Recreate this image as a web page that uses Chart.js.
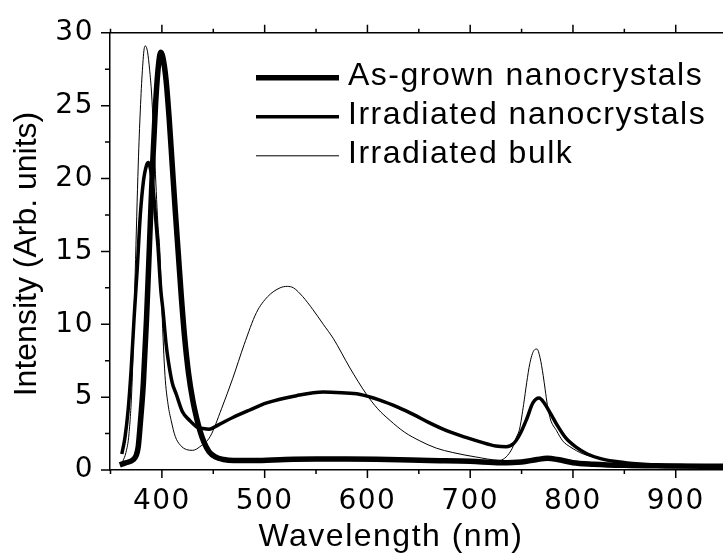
<!DOCTYPE html>
<html>
<head>
<meta charset="utf-8">
<script src="https://cdn.jsdelivr.net/npm/chart.js@4.4.0/dist/chart.umd.min.js"></script>
<style>
  body { margin: 0; background: #fff; }
  #wrap { width: 723px; height: 556px; position: relative; }
</style>
</head>
<body>
<div id="wrap"><canvas id="pl-chart"></canvas></div>
<script>
// photoluminescence spectra

const seriesLabels = ['As-grown nanocrystals', 'Irradiated nanocrystals', 'Irradiated bulk'];

const asGrownNm = [359, 365, 372, 375, 377, 379, 382, 385, 388, 391, 394, 397, 399, 401, 404, 407, 410, 413, 416, 419,
    422, 426, 430, 434, 437, 441, 446, 452, 460, 470, 490, 520, 550, 580, 620, 660, 700, 730, 750, 765,
    775, 785, 800, 820, 850, 890, 946];
const asGrownI = [0.35, 0.5, 0.7, 1.0, 1.6, 3.2, 6.0, 10.3, 15.6, 21.0, 25.3, 28.0, 28.66, 28.3, 26.8, 24.2, 21.0, 17.8, 14.8, 11.8,
    9.2, 6.6, 4.8, 3.5, 2.7, 1.9, 1.25, 0.9, 0.72, 0.65, 0.65, 0.72, 0.75, 0.75, 0.72, 0.65, 0.6, 0.5, 0.55, 0.72,
    0.8, 0.72, 0.5, 0.4, 0.32, 0.28, 0.25];

const irrNanoNm = [361, 364, 367, 370, 373, 376, 379, 382, 385, 387, 389, 391, 393, 396, 399, 401, 404, 406, 410, 414,
    420, 427, 434, 440, 446, 455, 469, 485, 502, 531, 557, 575, 592, 612, 630, 645, 660, 677, 695, 709,
    725, 735, 742, 748, 755, 761, 767, 772, 778, 784, 793, 803, 814, 826, 840, 858, 880, 910, 946];
const irrNanoI = [1.1, 2.2, 4.0, 6.8, 10.5, 13.8, 17.5, 19.8, 20.9, 21.1, 20.6, 19.6, 18.1, 15.5, 12.3, 11.0, 8.7, 7.6, 6.0, 5.2,
    4.0, 3.4, 2.95, 2.85, 2.8, 3.1, 3.6, 4.1, 4.6, 5.1, 5.35, 5.3, 5.2, 4.8, 4.3, 3.8, 3.25, 2.7, 2.25, 1.95,
    1.65, 1.6, 1.8, 2.4, 3.5, 4.6, 4.94, 4.6, 3.9, 3.15, 2.2, 1.57, 1.1, 0.8, 0.6, 0.45, 0.35, 0.3, 0.28];

const bulkNm = [362, 365, 368, 371, 374, 377, 379, 381, 383, 384, 386, 388, 390, 393, 396, 398, 400, 403, 406, 409,
    413, 418, 424, 430, 437, 447, 458, 469, 480, 492, 503, 515, 522, 528, 537, 547, 557, 567, 583, 599,
    610, 622, 636, 651, 667, 683, 705, 729, 735, 741, 745, 748, 752, 755, 758, 762, 765, 768, 771, 773,
    775, 778, 784, 790, 797, 810, 826, 850, 880, 946];
const bulkI = [0.6, 1.2, 2.5, 6.0, 13.5, 21.0, 24.7, 27.4, 29.0, 29.1, 28.7, 27.5, 25.8, 21.4, 17.0, 15.0, 11.0, 6.5, 4.5, 3.4,
    2.3, 1.7, 1.4, 1.35, 1.6, 2.3, 4.2, 6.3, 8.6, 10.8, 11.9, 12.5, 12.6, 12.5, 11.9, 11.0, 10.0, 9.0, 7.0, 5.2,
    4.2, 3.4, 2.6, 2.0, 1.5, 1.2, 0.9, 0.67, 0.9, 1.5, 2.25, 2.8, 4.5, 6.0, 7.3, 8.2, 8.3, 7.7, 6.5, 5.5,
    4.5, 3.5, 2.7, 2.0, 1.6, 1.1, 0.8, 0.5, 0.35, 0.3];

const xTicks = [400, 500, 600, 700, 800, 900];
const xMinorTicks = [350, 450, 550, 650, 750, 850];
const yTicks = [0, 5, 10, 15, 20, 25, 30];
const yMinorTicks = [2.5, 7.5, 12.5, 17.5, 22.5, 27.5];

const xTitle = 'Wavelength (nm)';
const yTitle = 'Intensity (Arb. units)';

const X_MIN = 349.5;
const X_MAX = 946;

function toPoints(xs, ys) {
    return xs.map((v, i) => ({ x: v, y: ys[i] }));
}

Chart.defaults.font.family = '"Liberation Sans", Arial, sans-serif';
Chart.defaults.color = '#000';

const tickFont = { family: '"DejaVu Sans", sans-serif', size: 28 };

// ticks, titles and legend drawn on top of the chart
const decorations = {
    id: 'decorations',
    beforeDraw(chart) {
        chart.ctx.letterSpacing = '1.5px';
    },
    afterDraw(chart) {
        const ctx = chart.ctx;
        const area = chart.chartArea;
        const x = chart.scales.x;
        const y = chart.scales.y;
        ctx.save();
        ctx.strokeStyle = '#000';
        ctx.lineWidth = 1.5;
        ctx.beginPath();
        const xTick = (v, len) => {
            if (v < x.min || v > x.max) return;
            const px = x.getPixelForValue(v);
            ctx.moveTo(px, area.bottom);
            ctx.lineTo(px, area.bottom + len);
            ctx.moveTo(px, area.top);
            ctx.lineTo(px, area.top - len);
        };
        const yTick = (v, len) => {
            const py = y.getPixelForValue(v);
            ctx.moveTo(area.left, py);
            ctx.lineTo(area.left - len, py);
        };
        xTicks.forEach(v => xTick(v, 8));
        xMinorTicks.forEach(v => xTick(v, 4));
        yTicks.forEach(v => yTick(v, 9));
        yMinorTicks.forEach(v => yTick(v, 5));
        ctx.stroke();

        ctx.fillStyle = '#000';
        ctx.font = '32px "Liberation Sans", Arial, sans-serif';

        // x title
        ctx.letterSpacing = '1.5px';
        ctx.textAlign = 'center';
        ctx.textBaseline = 'alphabetic';
        ctx.fillText(xTitle, 391, 546);

        // y title
        ctx.letterSpacing = '0px';
        ctx.save();
        ctx.translate(36, 254);
        ctx.rotate(-Math.PI / 2);
        ctx.fillText(yTitle, 0, 0);
        ctx.restore();

        // legend
        ctx.letterSpacing = '1.5px';
        ctx.textAlign = 'left';
        ctx.textBaseline = 'middle';
        chart.data.datasets.forEach((ds, i) => {
            const rowY = area.top + 45 + i * 39;
            ctx.lineWidth = ds.borderWidth;
            ctx.lineCap = 'butt';
            ctx.beginPath();
            ctx.moveTo(256, rowY);
            ctx.lineTo(339, rowY);
            ctx.stroke();
            ctx.fillText(ds.label, 348, rowY - 1.5);
        });
        ctx.restore();
    }
};

const chartData = {
    datasets: [
        {
            label: seriesLabels[0],
            data: toPoints(asGrownNm, asGrownI),
            borderColor: '#000',
            borderWidth: 5.5
        },
        {
            label: seriesLabels[1],
            data: toPoints(irrNanoNm, irrNanoI),
            borderColor: '#000',
            borderWidth: 3.5
        },
        {
            label: seriesLabels[2],
            data: toPoints(bulkNm, bulkI),
            borderColor: '#000',
            borderWidth: 1
        }
    ]
};

const config = {
    type: 'line',
    data: chartData,
    options: {
        responsive: true,
        maintainAspectRatio: false,
        animation: false,
        layout: { padding: 0 },
        elements: {
            point: { radius: 0 },
            line: { cubicInterpolationMode: 'monotone', fill: false }
        },
        plugins: {
            legend: { display: false },
            tooltip: { enabled: false }
        },
        scales: {
            x: {
                type: 'linear',
                position: 'bottom',
                min: X_MIN,
                max: X_MAX,
                afterBuildTicks: s => { s.ticks = xTicks.map(v => ({ value: v })); },
                afterFit: s => { s.height = 86; },
                grid: { drawOnChartArea: false, drawTicks: false },
                border: { display: true, color: '#000', width: 1.5 },
                ticks: {
                    autoSkip: false,
                    maxRotation: 0,
                    padding: 15,
                    font: tickFont,
                    color: '#000'
                }
            },
            x2: {
                type: 'linear',
                position: 'top',
                min: X_MIN,
                max: X_MAX,
                afterFit: s => { s.height = 25; },
                grid: { drawOnChartArea: false, drawTicks: false },
                border: { display: true, color: '#000', width: 1.5 },
                ticks: { display: false }
            },
            y: {
                type: 'linear',
                min: 0,
                max: 30,
                afterBuildTicks: s => { s.ticks = yTicks.map(v => ({ value: v })); },
                afterFit: s => { s.width = 110; },
                grid: { drawOnChartArea: false, drawTicks: false },
                border: { display: true, color: '#000', width: 1.5 },
                ticks: {
                    padding: 16,
                    font: tickFont,
                    color: '#000'
                }
            }
        }
    },
    plugins: [decorations]
};

const ctx = document.getElementById('pl-chart').getContext('2d');
const plChart = new Chart(ctx, config);
</script>
</body>
</html>
